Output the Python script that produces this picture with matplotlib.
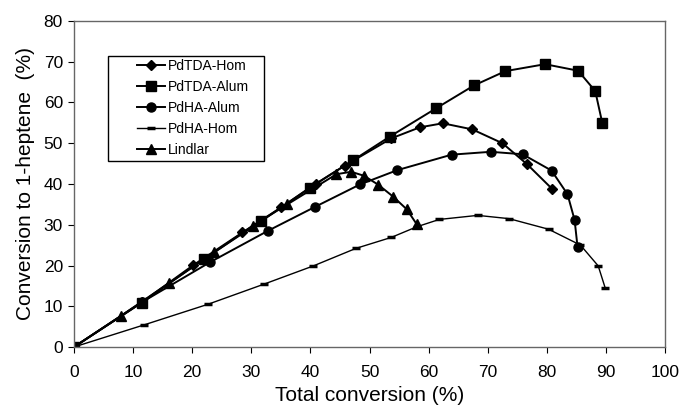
import matplotlib.pyplot as plt
from matplotlib.patches import Rectangle
import numpy as np

plt.rcParams['font.family'] = ['Liberation Sans', 'DejaVu Sans']

# PdTDA-Hom (diamonds)
tda_hom_x = [0, 11.5, 20.2, 28.5, 35.1, 41.0, 45.8, 53.7, 58.5, 62.4, 67.4, 72.5, 76.7, 80.9]
tda_hom_y = [0, 11.0, 20.1, 28.1, 34.3, 40.1, 44.5, 51.2, 53.9, 54.9, 53.4, 50.0, 44.8, 38.8]

# PdTDA-Alum (squares)
tda_alum_x = [0, 11.5, 22.0, 31.6, 39.9, 47.2, 53.4, 61.3, 67.7, 73.0, 79.7, 85.3, 88.2, 89.4]
tda_alum_y = [0, 10.9, 21.6, 30.8, 39.1, 45.8, 51.6, 58.6, 64.2, 67.7, 69.4, 67.8, 62.8, 54.9]

# PdHA-Alum (circles)
ha_alum_x = [0, 11.5, 23.0, 32.8, 40.8, 48.4, 54.7, 63.9, 70.5, 75.9, 80.8, 83.5, 84.7, 85.2]
ha_alum_y = [0, 11.0, 20.8, 28.5, 34.4, 39.9, 43.4, 47.2, 47.9, 47.3, 43.3, 37.5, 31.2, 24.6]

# PdHA-Hom (dashes)
ha_hom_x = [0, 11.8, 22.7, 32.1, 40.5, 47.7, 53.7, 58.0, 61.8, 68.3, 73.6, 80.3, 85.7, 88.7, 89.9]
ha_hom_y = [0, 5.4, 10.5, 15.4, 19.9, 24.2, 26.9, 29.5, 31.3, 32.3, 31.5, 28.9, 25.0, 19.9, 14.4]

# Lindlar (triangles)
lind_x = [0, 8.0, 16.0, 23.7, 30.3, 36.1, 44.4, 46.9, 49.1, 51.5, 54.0, 56.3, 58.0]
lind_y = [0, 7.7, 15.6, 23.2, 29.8, 35.0, 42.4, 43.0, 42.0, 39.8, 36.9, 33.8, 30.1]

W, H = 681, 408
fig = plt.figure(figsize=(W / 100, H / 100), dpi=100)
ax = fig.add_axes([74 / W, 1 - 347 / H, (665 - 74) / W, (347 - 21) / H])

ax.plot(tda_hom_x, tda_hom_y, color='black', lw=1.4, marker='D', ms=5.5, label='PdTDA-Hom')
ax.plot(tda_alum_x, tda_alum_y, color='black', lw=1.4, marker='s', ms=6.5, label='PdTDA-Alum')
ax.plot(ha_alum_x, ha_alum_y, color='black', lw=1.4, marker='o', ms=6.5, label='PdHA-Alum')
ax.plot(ha_hom_x, ha_hom_y, color='black', lw=1.0, marker='_', ms=6, mew=2.5, label='PdHA-Hom')
ax.plot(lind_x, lind_y, color='black', lw=1.4, marker='^', ms=6.5, label='Lindlar')

ax.set_xlim(0, 100)
ax.set_ylim(0, 80)
ax.set_xticks(np.arange(0, 101, 10))
ax.set_yticks(np.arange(0, 81, 10))
ax.tick_params(direction='out', length=4, labelsize=12.5, colors='black')
ax.tick_params(axis='x', pad=9)
ax.tick_params(axis='y', pad=4)
for s in ax.spines.values():
    s.set_color('#666666')
    s.set_linewidth(1.0)

ax.set_xlabel('Total conversion (%)', fontsize=15, labelpad=4)
ax.set_ylabel('Conversion to 1-heptene  (%)', fontsize=15, labelpad=6)

# legend box drawn separately (wide left margin like the original)
box = Rectangle((108 / W, 1 - 161 / H), (264 - 108) / W, (161 - 56) / H,
                transform=fig.transFigure, facecolor='white', edgecolor='black',
                lw=1.0, zorder=4)
fig.patches.append(box)

handles, labels = ax.get_legend_handles_labels()
leg = fig.legend(handles, labels, loc='upper left', bbox_to_anchor=(137 / W, 1 - 59 / H),
                 fontsize=10, frameon=False,
                 handlelength=2.0, handletextpad=0.2, labelspacing=0.5,
                 borderpad=0, borderaxespad=0)
leg.set_zorder(5)

fig.savefig('out.png', dpi=100)
